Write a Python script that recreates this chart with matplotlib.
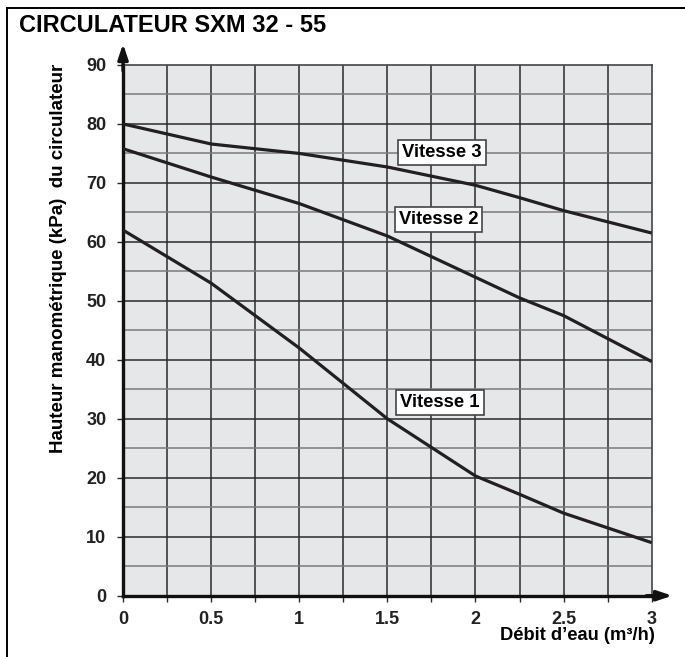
import matplotlib
matplotlib.use("Agg")
import matplotlib.pyplot as plt
from matplotlib.lines import Line2D

plt.rcParams['font.family'] = ['Liberation Sans', 'DejaVu Sans']
plt.rcParams['font.weight'] = 'bold'

# debit d'eau (m3/h)
debit = [0, 0.5, 1, 1.5, 2, 2.25, 2.5, 3]

# hauteur manometrique (kPa) for each speed
vitesse_1 = [62, 53, 42, 30, 20.3, 17.2, 14, 9]
vitesse_2 = [75.8, 71, 66.5, 61, 54, 50.5, 47.5, 39.7]
vitesse_3 = [80, 76.6, 75, 72.7, 69.6, 67.5, 65.3, 61.5]

curves = [
  ('Vitesse 1', vitesse_1, (1.8, 32.7)),
  ('Vitesse 2', vitesse_2, (1.79, 63.8)),
  ('Vitesse 3', vitesse_3, (1.81, 75.2)),
]

x_ticks = [0, 0.5, 1, 1.5, 2, 2.5, 3]
x_tick_labels = ['0', '0.5', '1', '1.5', '2', '2.5', '3']
y_ticks = [0, 10, 20, 30, 40, 50, 60, 70, 80, 90]

fig = plt.figure(figsize=(6.85, 6.57), dpi=100)
ax = fig.add_axes([0.1796, 0.0933, 0.7718, 0.8078])
ax.set_facecolor('#e6e7e9')

ax.set_xlim(0, 3)
ax.set_ylim(0, 90)

# grid
for gx in [i * 0.25 for i in range(1, 12)]:
  ax.axvline(gx, color='#2a2a2a', lw=1.1, zorder=1)
for gy in range(5, 90, 5):
  if gy % 10 == 0:
    ax.axhline(gy, color='#2a2a2a', lw=1.1, zorder=1)
  else:
    ax.axhline(gy, color='#7a7a7a', lw=1.1, zorder=1)

for label, values, (tx, ty) in curves:
  ax.plot(debit, values, color='#231f20', lw=2.3, zorder=3, solid_capstyle='butt')
  ax.text(tx, ty, label, fontsize=13.3, fontweight='bold', color='black',
          ha='center', va='center', zorder=4,
          bbox=dict(boxstyle='square,pad=0.22', facecolor='white',
                    edgecolor='#444444', linewidth=1.2))

ax.set_xticks(x_ticks)
ax.set_xticklabels(x_tick_labels)
ax.set_xticks([i * 0.25 for i in range(13)], minor=True)
ax.set_yticks(y_ticks)
ax.tick_params(axis='both', which='both', direction='out', length=4, width=1,
               colors='#2a2a2a', labelsize=13, pad=7)
ax.tick_params(axis='y', pad=8)
for lbl in ax.get_xticklabels() + ax.get_yticklabels():
  lbl.set_fontweight('bold')
  lbl.set_color('#222222')

for side in ['left', 'bottom']:
  ax.spines[side].set_linewidth(2.4)
  ax.spines[side].set_color('#111111')
for side in ['top', 'right']:
  ax.spines[side].set_linewidth(1.2)
  ax.spines[side].set_color('#444444')

# axis arrows
ax.annotate('', xy=(0, 93.6), xytext=(0, 89), annotation_clip=False,
            arrowprops=dict(arrowstyle='-|>,head_length=0.9,head_width=0.3',
                            color='#111111', lw=2.4, shrinkA=0, shrinkB=0))
ax.annotate('', xy=(3.117, 0), xytext=(2.97, 0), annotation_clip=False,
            arrowprops=dict(arrowstyle='-|>,head_length=0.9,head_width=0.3',
                            color='#111111', lw=2.4, shrinkA=0, shrinkB=0))

fig.text(0.0275, 0.961, 'CIRCULATEUR SXM 32 - 55', fontsize=17, fontweight='bold',
         ha='left', va='center')
fig.text(0.956, 0.032, 'Débit d\u2019eau (m\u00b3/h)', fontsize=13.2, fontweight='bold',
         ha='right', va='center')
fig.text(0.086, 0.607, 'Hauteur manométrique (kPa)  du circulateur', fontsize=13.5,
         fontweight='bold', rotation=90, ha='center', va='center')

# frame around the figure
fig.add_artist(Line2D([0.0102, 1.0], [0.988, 0.988], color='black', lw=1.4))
fig.add_artist(Line2D([0.0102, 0.0102], [0.0, 0.988], color='black', lw=1.4))

fig.savefig('out.png', dpi=100)
